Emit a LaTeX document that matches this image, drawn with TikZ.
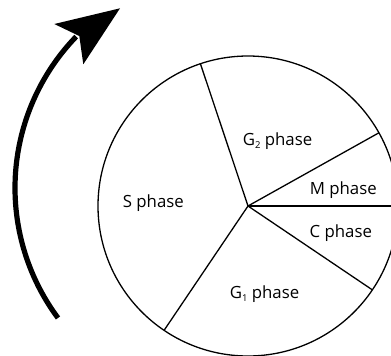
\documentclass[tikz,border=0pt]{standalone}
\usepackage{fontspec}
\setmainfont{Open Sans}
\newcommand{\lowsub}[1]{\raisebox{-0.3ex}{\fontsize{9.5bp}{10bp}\selectfont #1}}
\begin{document}
\begin{tikzpicture}[x=1bp,y=-1bp,
  thin line/.style={line width=1.3bp,black},
  label text/.style={anchor=base,inner sep=0pt,font=\fontsize{16.8bp}{20bp}\selectfont},
  shaft/.style={line width=5.2bp,black}]
\clip (0,0) rectangle (391,356);
\coordinate (O) at (248,206);
\coordinate (pA) at (200.4,63.7);
\coordinate (pB) at (378.9,132.8);
\coordinate (pC) at (398,206);
\coordinate (pD) at (372.4,289.9);
\coordinate (pE) at (164.1,330.3);
\draw[thin line] (O) circle[radius=150];
\foreach \p in {pA,pB,pC,pD,pE} \draw[thin line] (O) -- (\p);
\node[label text] (s) at (153.3,207.3) {S phase};
\node[label text] (g2) at (277.5,145.7) {G\lowsub{2} phase};
\node[label text] (m) at (343.3,194) {M phase};
\node[label text] (c) at (340.8,237.7) {C phase};
\node[label text] (g1) at (264.5,298.3) {G\lowsub{1} phase};
% arrow
\draw[shaft] plot[domain=216.6:136,samples=60,smooth] ({233+218*cos(\x)},{188-218*sin(\x)});
\coordinate (tip) at (120,8.3);
\coordinate (wl) at (54.3,24);
\coordinate (notch) at (79.3,36);
\coordinate (wr) at (83.3,64.3);
\fill[black] (tip) -- (wl) -- (notch) -- (wr) -- cycle;
\end{tikzpicture}
\end{document}
